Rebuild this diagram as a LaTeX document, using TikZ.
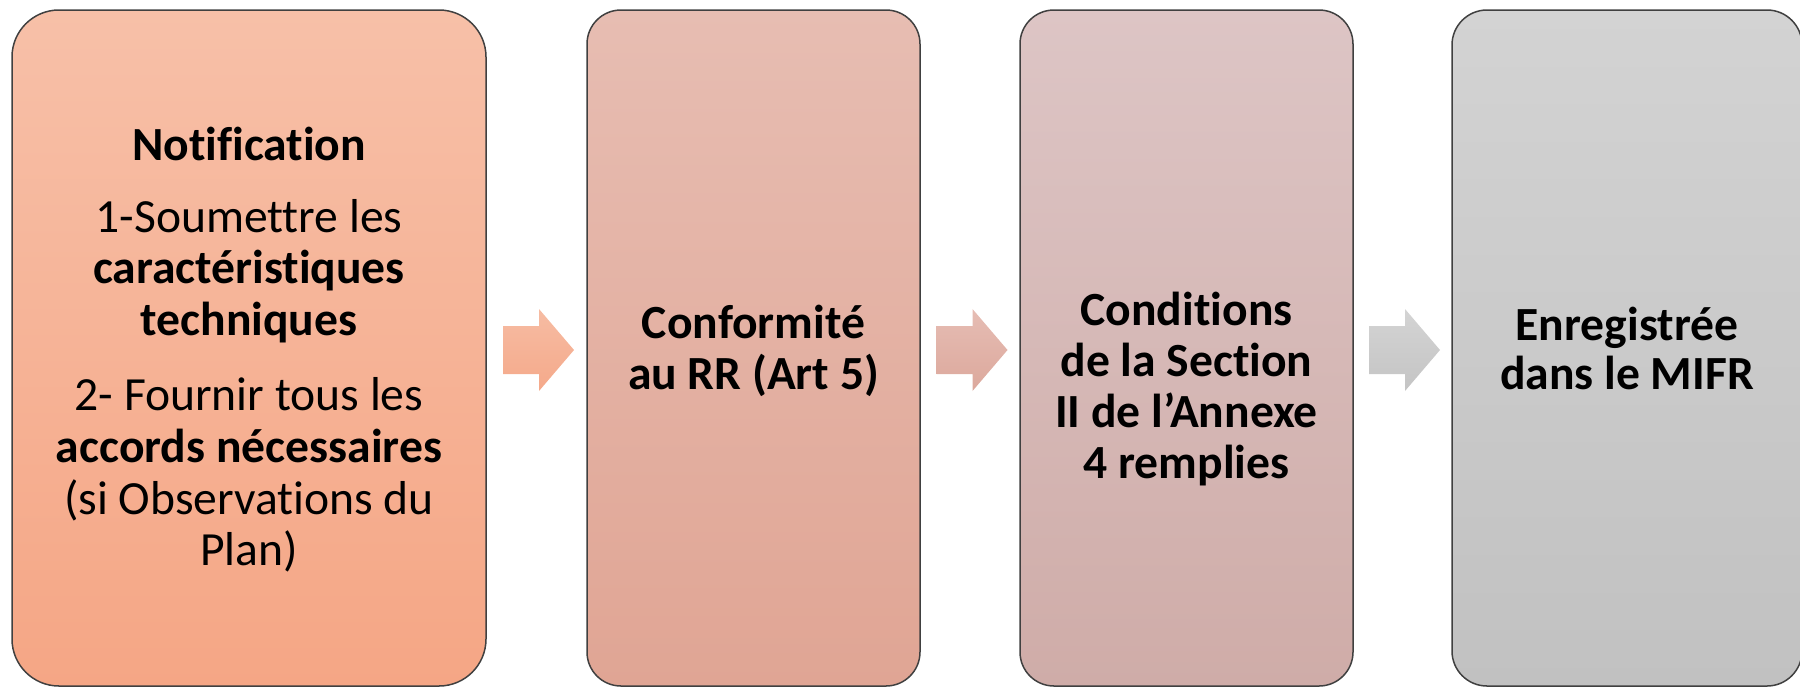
\documentclass[tikz,border=0pt]{standalone}
\usepackage{fontspec}
\setmainfont{Carlito}[Ligatures={NoCommon}]
\usetikzlibrary{calc}
\definecolor{oneT}{HTML}{F7C0A8}
\definecolor{oneB}{HTML}{F5A685}
\definecolor{twoT}{HTML}{E7BDB2}
\definecolor{twoB}{HTML}{E0A594}
\definecolor{thrT}{HTML}{DDC5C5}
\definecolor{thrB}{HTML}{CFACA8}
\definecolor{fouT}{HTML}{D3D3D3}
\definecolor{fouB}{HTML}{C1C1C1}
\definecolor{arOneT}{HTML}{F6BCA3}
\definecolor{arOneB}{HTML}{F5A98A}
\definecolor{arTwoT}{HTML}{E6BDB4}
\definecolor{arTwoB}{HTML}{DCA89C}
\definecolor{arThrT}{HTML}{D4D4D4}
\definecolor{arThrB}{HTML}{C4C4C4}
\newcommand\stepArrow[4]{%
  \coordinate (m#1#2) at ($(#1.east)!0.5!(#2.west)+(2,2)$);
  \shade[top color=#3,bottom color=#4]
    ($(m#1#2)+(-35.5,-24)$) -- ($(m#1#2)+(0.5,-24)$) -- ($(m#1#2)+(0.5,-41)$) --
    ($(m#1#2)+(35.5,0)$) -- ($(m#1#2)+(0.5,41)$) -- ($(m#1#2)+(0.5,24)$) --
    ($(m#1#2)+(-35.5,24)$) -- cycle;}
\begin{document}
\begin{tikzpicture}[x=0.5pt,y=-0.5pt,
  box/.style={draw=black!75, line width=0.75pt, rounded corners=#1, inner sep=0pt, minimum height=338pt},
  txt/.style={anchor=base, inner sep=0pt, font=\fontsize{23.8pt}{26pt}\selectfont},
  btxt/.style={txt, font=\fontsize{23.8pt}{26pt}\selectfont\bfseries}]
\useasboundingbox (0,0) rectangle (1800,687);
\node[box=23.5pt, minimum width=237pt, top color=oneT, bottom color=oneB] (b1) at (249,348) {};
\node[box=17pt, minimum width=166.5pt, top color=twoT, bottom color=twoB] (b2) at (753.5,348) {};
\node[box=17pt, minimum width=166.5pt, top color=thrT, bottom color=thrB] (b3) at (1186.5,348) {};
\node[box=17.5pt, minimum width=175pt, top color=fouT, bottom color=fouB] (b4) at (1627,348) {};
\stepArrow{b1}{b2}{arOneT}{arOneB}
\stepArrow{b2}{b3}{arTwoT}{arTwoB}
\stepArrow{b3}{b4}{arThrT}{arThrB}
% box 1
\node[btxt] (t11) at (249,160) {Notification};
\node[txt]  (t12) at (249,232) {1-Soumettre les};
\node[btxt] (t13) at (249,283) {caractéristiques};
\node[btxt] (t14) at (249,335) {techniques};
\node[txt]  (t15) at (249,410) {2- Fournir tous les};
\node[btxt] (t16) at (249,462) {accords nécessaires};
\node[txt]  (t17) at (249,514) {(si Observations du};
\node[txt]  (t18) at (249,565) {Plan)};
% box 2
\node[btxt] (t21) at (753.5,338) {Conformité};
\node[btxt] (t22) at (753.5,389) {au RR (Art 5)};
% box 3
\node[btxt] (t31) at (1186.5,325) {Conditions};
\node[btxt] (t32) at (1186.5,376) {de la Section};
\node[btxt] (t33) at (1186.5,427) {II de l’Annexe};
\node[btxt] (t34) at (1186.5,478) {4 remplies};
% box 4
\node[btxt] (t41) at (1627,340) {Enregistrée};
\node[btxt] (t42) at (1627,389) {dans le MIFR};
\end{tikzpicture}
\end{document}
